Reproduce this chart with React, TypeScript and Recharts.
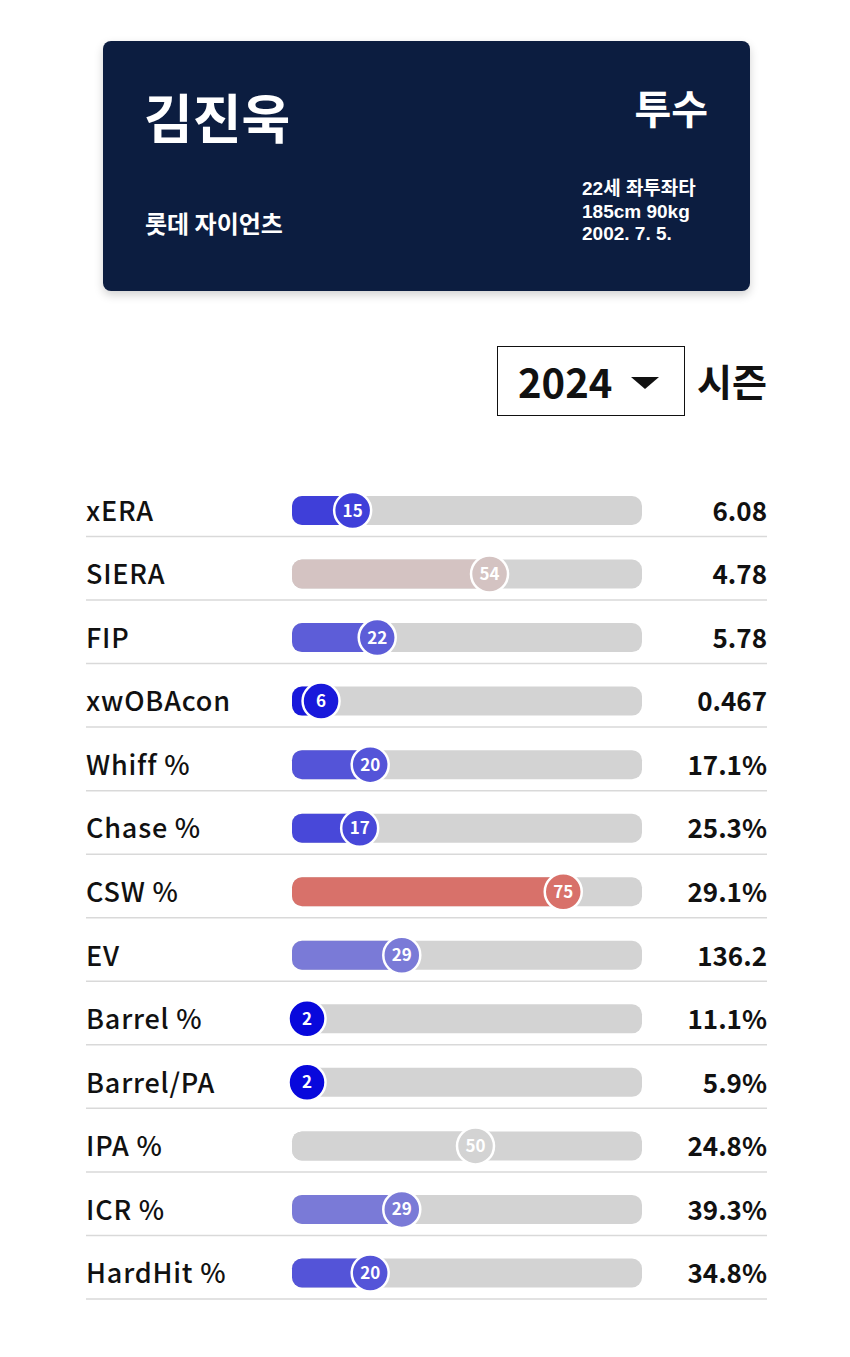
import React from 'react';
import {Bar, BarChart, XAxis, YAxis} from 'recharts';

// stat rows, top to bottom
const statNames: string[] = ['xERA', 'SIERA', 'FIP', 'xwOBAcon', 'Whiff %', 'Chase %', 'CSW %', 'EV', 'Barrel %', 'Barrel/PA', 'IPA %', 'ICR %', 'HardHit %'];
const percentiles: number[] = [15, 54, 22, 6, 20, 17, 75, 29, 2, 2, 50, 29, 20];
const statValues: string[] = ['6.08', '4.78', '5.78', '0.467', '17.1%', '25.3%', '29.1%', '136.2', '11.1%', '5.9%', '24.8%', '39.3%', '34.8%'];

const player = {name: '김진욱', team: '롯데 자이언츠', position: '투수'};
const infoLines: string[] = ['22세 좌투좌타', '185cm 90kg', '2002. 7. 5.'];
const season = '2024';

const FONT = '"Noto Sans CJK KR", "Noto Sans", sans-serif';
const INFO_FONT = '"Liberation Sans", "Noto Sans CJK KR", sans-serif';

// blue (low) -> gray (50) -> red (high)
function pctColor(v: number): string {
    const lo = [0, 0, 220], mid = [211, 211, 211], hi = [220, 15, 0];
    let a: number[], b: number[], t: number;
    if (v <= 50) { a = lo; b = mid; t = v / 50; } else { a = mid; b = hi; t = (v - 50) / 50; }
    const c = a.map((ch, i) => Math.round(ch + (b[i] - ch) * t));
    return `rgb(${c[0]},${c[1]},${c[2]})`;
}

const data = statNames.map((name, i) => ({name, pct: percentiles[i], value: statValues[i]}));

function Track(props: any) {
    const {x, y, width, height} = props;
    const cy = y + height / 2;
    return (
        <g>
            <rect x={x - 8} y={y} width={width - 1} height={height} rx={10} fill="#d3d3d3"/>
            <line x1={86} x2={767} y1={cy + 26} y2={cy + 26} stroke="#d9d9d9" strokeWidth={1.5}/>
        </g>
    );
}

function Marker(props: any) {
    const {x, y, width, height, payload} = props;
    const cy = y + height / 2;
    const cx = x + width;
    const color = pctColor(payload.pct);
    const l = x - 8;
    return (
        <g>
            <path d={`M${l + 10},${y} L${cx},${y} L${cx},${y + height} L${l + 10},${y + height} A10,10 0 0 1 ${l},${y + height - 10} L${l},${y + 10} A10,10 0 0 1 ${l + 10},${y} Z`} fill={color}/>
            <circle cx={cx} cy={cy} r={18.5} fill={color} stroke="#fff" strokeWidth={2.5}/>
            <text x={cx} y={cy + 6} textAnchor="middle" fill="#fff" fontSize={17} fontWeight={700} fontFamily={FONT}>{payload.pct}</text>
        </g>
    );
}

function NameTick(props: any) {
    const {y, payload} = props;
    return <text x={86} y={y + 10} fontSize={27} fontWeight={500} letterSpacing={0.8} fill="#111" fontFamily={FONT}>{payload.value}</text>;
}

function ValueTick(props: any) {
    const {y, payload} = props;
    return <text x={767} y={y + 10} textAnchor="end" fontSize={26} fontWeight={700} fill="#111" fontFamily={FONT}>{payload.value}</text>;
}

export default function App(): React.JSX.Element {
    return (
        <div style={{position: 'relative', width: 850, height: 1357, margin: -8, background: '#fff', fontFamily: FONT}}>
            <div style={{position: 'absolute', left: 103, top: 41, width: 647, height: 250, background: '#0c1d40', borderRadius: 8, boxShadow: '0 4px 10px rgba(0,0,0,0.18)', color: '#fff'}}>
                <div style={{position: 'absolute', left: 41, top: 40, fontSize: 53, fontWeight: 700, lineHeight: '70px'}}>{player.name}</div>
                <div style={{position: 'absolute', right: 42, top: 41, fontSize: 40, fontWeight: 700, lineHeight: '50px'}}>{player.position}</div>
                <div style={{position: 'absolute', left: 42, top: 166, fontSize: 24, fontWeight: 700, lineHeight: '32px'}}>{player.team}</div>
                {infoLines.map((l, i) => (
                    <div key={l} style={{position: 'absolute', left: 479, top: 137 + i * 22.5, fontFamily: INFO_FONT, fontSize: 19, fontWeight: 700, lineHeight: '22px', whiteSpace: 'nowrap'}}>{l}</div>
                ))}
            </div>
            <div style={{position: 'absolute', left: 497, top: 346, width: 186, height: 68, border: '1.5px solid #111'}}>
                <div style={{position: 'absolute', left: 20, top: 6, fontSize: 40, fontWeight: 700, lineHeight: '56px', color: '#111'}}>{season}</div>
                <svg style={{position: 'absolute', left: 133, top: 30}} width={28} height={12}>
                    <polygon points="0,0 28,0 14,12" fill="#111"/>
                </svg>
            </div>
            <div style={{position: 'absolute', left: 697, top: 352, fontSize: 38, fontWeight: 700, lineHeight: '56px', color: '#111'}}>시즌</div>
            <div style={{position: 'absolute', left: 0, top: 479}}>
                <BarChart width={850} height={826} data={data} layout="vertical" margin={{top: 0, right: 83, bottom: 0, left: 86}} barCategoryGap={0}>
                    <XAxis type="number" domain={[0, 100]} hide/>
                    <YAxis yAxisId="left" type="category" dataKey="name" width={214} axisLine={false} tickLine={false} tick={<NameTick/>}/>
                    <YAxis yAxisId="right" orientation="right" type="category" dataKey="value" width={116} axisLine={false} tickLine={false} tick={<ValueTick/>}/>
                    <Bar yAxisId="left" dataKey="pct" barSize={29} background={<Track/>} shape={<Marker/>} isAnimationActive={false}/>
                </BarChart>
            </div>
        </div>
    );
}
